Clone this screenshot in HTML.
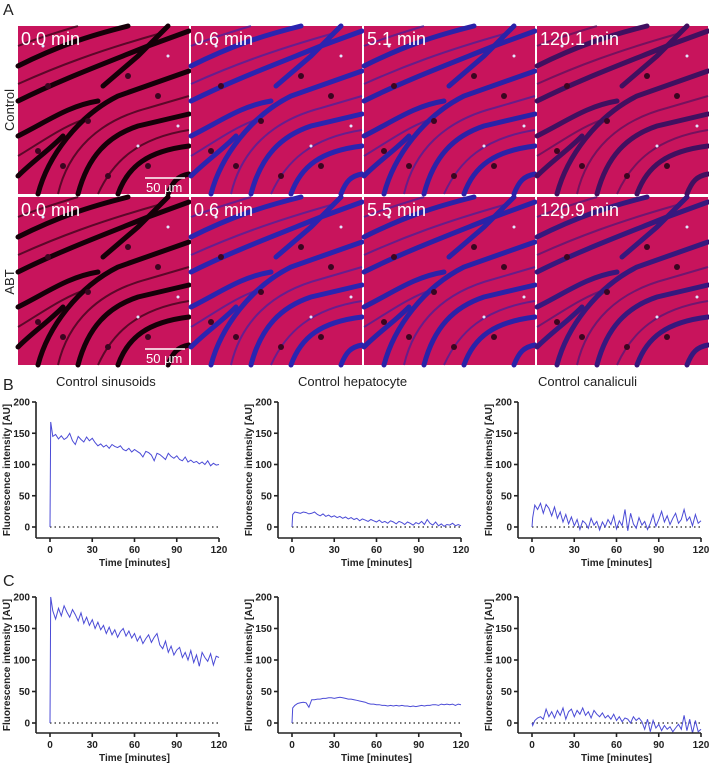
<!DOCTYPE html>
<html><head><meta charset="utf-8">
<style>
html,body{margin:0;padding:0;background:#fff;}
svg{display:block;font-family:"Liberation Sans",Arial,sans-serif;}
.tk{font-size:10px;font-weight:bold;fill:#222;}
.ttl{font-size:13px;fill:#222;}
.ax{stroke:#222;stroke-width:1.6;fill:none;}
.ser{stroke:#4b4bd6;stroke-width:1;fill:none;}
.img-lbl{font-size:18px;fill:#fff;}
</style></head>
<body>
<svg id="fig" width="709" height="763" viewBox="0 0 709 763">
<defs>
  <g id="tissue">
    <rect width="171" height="168" fill="#c8145c"/>
    <g stroke="currentColor" stroke-width="5" fill="none" stroke-linecap="round">
      <path d="M0,40 C40,20 70,10 110,0"/>
      <path d="M0,75 C40,55 80,40 130,20 L171,5"/>
      <path d="M20,168 C30,130 60,90 100,70 L171,45"/>
      <path d="M60,168 C70,130 90,110 120,100 L171,88"/>
      <path d="M100,168 C110,140 130,125 171,120"/>
      <path d="M0,110 C30,95 50,80 80,75"/>
      <path d="M0,150 C15,135 30,125 45,110"/>
      <path d="M150,168 C155,155 160,150 171,148"/>
      <path d="M85,60 L120,30 L150,0"/>
    </g>
    <g stroke="currentColor" stroke-width="2" fill="none" opacity="0.6">
      <path d="M0,58 C40,40 80,25 140,8"/>
      <path d="M40,168 C50,125 80,95 130,82 L171,70"/>
      <path d="M80,168 C95,135 120,112 171,104"/>
      <path d="M0,130 C25,115 45,100 70,92"/>
      <path d="M0,20 C20,12 40,6 60,0"/>
    </g>
    <g fill="#3a0520">
      <circle cx="30" cy="60" r="3"/><circle cx="70" cy="95" r="3"/><circle cx="110" cy="50" r="3"/>
      <circle cx="45" cy="140" r="3"/><circle cx="130" cy="140" r="3"/><circle cx="90" cy="150" r="3"/>
      <circle cx="140" cy="70" r="3"/><circle cx="20" cy="125" r="3"/>
    </g>
    <g fill="#e0e8ff">
      <circle cx="150" cy="30" r="1.5"/><circle cx="160" cy="100" r="1.5"/><circle cx="25" cy="20" r="1.5"/><circle cx="120" cy="120" r="1.5"/>
    </g>
  </g>
</defs>

<text x="3" y="15" font-size="16" fill="#222">A</text>
<text x="3" y="390" font-size="16" fill="#222">B</text>
<text x="3" y="586" font-size="16" fill="#222">C</text>

<text transform="translate(14,110) rotate(-90)" text-anchor="middle" font-size="13" fill="#222">Control</text>
<text transform="translate(14,282) rotate(-90)" text-anchor="middle" font-size="13" fill="#222">ABT</text>

<g><use href="#tissue" x="18" y="26" color="#150008"/><text class="img-lbl" x="21" y="45">0.0 min</text></g>
<g><use href="#tissue" x="191" y="26" color="#2a24b0"/><text class="img-lbl" x="194" y="45">0.6 min</text></g>
<g><use href="#tissue" x="364" y="26" color="#2a22a8"/><text class="img-lbl" x="367" y="45">5.1 min</text></g>
<g><use href="#tissue" x="537" y="26" color="#401060"/><text class="img-lbl" x="540" y="45">120.1 min</text></g>

<g><use href="#tissue" x="18" y="197" color="#150008"/><text class="img-lbl" x="21" y="216">0.0 min</text></g>
<g><use href="#tissue" x="191" y="197" color="#2a24b0"/><text class="img-lbl" x="194" y="216">0.6 min</text></g>
<g><use href="#tissue" x="364" y="197" color="#2a22a8"/><text class="img-lbl" x="367" y="216">5.5 min</text></g>
<g><use href="#tissue" x="537" y="197" color="#36187e"/><text class="img-lbl" x="540" y="216">120.9 min</text></g>

<g><line x1="145" y1="178" x2="185" y2="178" stroke="#fff" stroke-width="1.5"/><text x="146" y="192" font-size="13" fill="#fff">50 µm</text></g>
<g><line x1="145" y1="349" x2="185" y2="349" stroke="#fff" stroke-width="1.5"/><text x="146" y="363" font-size="13" fill="#fff">50 µm</text></g>

<g id="charts"></g>
</svg>
<script>
const xTicks = [0, 30, 60, 90, 120];
const yTicks = [0, 50, 100, 150, 200];
const ctrlSinusoids = [0,168,145,148,141,146,140,143,150,138,
 132,145,140,136,144,138,142,135,130,133,
 128,131,126,132,129,127,130,124,122,126,
 120,124,121,118,112,121,119,115,106,118,
 116,112,108,118,113,110,114,108,106,112,
 104,107,103,105,101,104,100,106,98,102,
 99,100];
const ctrlHepatocyte = [0,20,24,23,22,24,23,21,22,24,
 20,18,21,17,19,16,18,15,17,14,
 16,13,15,12,14,10,13,11,9,12,
 10,8,11,7,9,6,10,8,5,9,
 7,4,8,6,3,7,5,9,4,12,
 6,3,8,2,5,1,4,3,6,2,
 4,2];
const ctrlCanaliculi = [0,15,35,28,38,22,36,30,18,32,
 14,24,8,20,5,16,2,12,-4,10,
 6,-2,14,3,9,-5,8,0,12,4,
 18,-3,10,2,28,-6,22,5,-2,15,
 3,9,-4,6,20,1,12,25,8,18,
 4,14,22,6,12,28,10,16,2,20,
 6,10];
const abtSinusoids = [0,200,178,165,182,170,186,176,168,180,
 172,162,175,158,168,155,164,150,160,148,
 155,142,152,140,148,136,145,150,138,146,
 135,142,130,138,126,134,140,128,136,142,
 124,118,130,112,122,108,116,120,104,112,
 100,115,96,108,90,112,104,98,110,92,
 106,104];
const abtHepatocyte = [0,24,28,31,32,33,32,25,37,37,
 38,38,39,39,40,40,39,40,41,40,
 39,38,38,37,36,35,34,33,31,30,
 30,29,29,28,28,27,28,27,28,27,
 28,27,27,26,27,26,27,28,27,28,
 28,29,29,28,30,29,30,29,30,28,
 30,29];
const abtCanaliculi = [0,-4,4,8,10,6,22,10,18,8,
 20,12,24,6,18,22,10,20,14,24,
 12,18,8,20,14,10,16,8,12,6,
 14,4,10,2,8,6,0,10,4,8,
 2,-10,6,-14,4,-8,-2,-12,-4,-10,
 -6,-14,-8,-2,-10,12,-12,6,-16,4,
 -14,-10];
const sampleTimes = [0, 0.5];
for (let t = 2; t <= 120; t += 2) sampleTimes.push(t);

const NS = "http://www.w3.org/2000/svg";
const root = document.getElementById('charts');
function mk(tag, attrs, parent) {
  const e = document.createElementNS(NS, tag);
  for (const k in attrs) e.setAttribute(k, attrs[k]);
  (parent || root).appendChild(e);
  return e;
}
const cols = [{yax:36,x0:50,x1:219},{yax:278,x0:292,x1:461},{yax:518,x0:532,x1:701}];
const rows = [{y200:402,y0:527,xax:538},{y200:597,y0:723,xax:733}];
const charts = [
  {r:0,c:0,data:ctrlSinusoids,title:"Control sinusoids",name:"control-sinusoids"},
  {r:0,c:1,data:ctrlHepatocyte,title:"Control hepatocyte",name:"control-hepatocyte"},
  {r:0,c:2,data:ctrlCanaliculi,title:"Control canaliculi",name:"control-canaliculi"},
  {r:1,c:0,data:abtSinusoids,title:"",name:"abt-sinusoids"},
  {r:1,c:1,data:abtHepatocyte,title:"",name:"abt-hepatocyte"},
  {r:1,c:2,data:abtCanaliculi,title:"",name:"abt-canaliculi"}
];
charts.forEach((ch, i) => {
  const C = cols[ch.c], R = rows[ch.r];
  const xs = v => C.x0 + (C.x1 - C.x0) * v / 120;
  const ys = v => R.y0 + (R.y200 - R.y0) * v / 200;
  const g = mk('g', {});
  
  
  const clipId = 'clip' + i;
  const cp = mk('clipPath', {id: clipId}, g);
  mk('rect', {x: C.yax, y: R.y200 - 6, width: C.x1 - C.yax + 4, height: R.xax - R.y200 + 6}, cp);
  if (ch.title) {
    const t = mk('text', {x: C.x0 + 6, y: R.y200 - 16, class: 'ttl'}, g);
    t.textContent = ch.title;
    
    
  }
  const zl = mk('line', {x1: xs(0), x2: xs(120), y1: ys(0), y2: ys(0), stroke: '#222', 'stroke-width': 1.2, 'stroke-dasharray': '1.5,3'}, g);
  
  
  let d = '';
  ch.data.forEach((v, k) => { d += (k ? 'L' : 'M') + xs(sampleTimes[k]).toFixed(1) + ',' + ys(v).toFixed(1); });
  const p = mk('path', {d: d, class: 'ser', 'clip-path': 'url(#' + clipId + ')'}, g);
  
  
  const ya = mk('line', {x1: C.yax, x2: C.yax, y1: ys(200), y2: R.xax, class: 'ax'}, g);
  
  
  const xa = mk('line', {x1: C.yax, x2: xs(120), y1: R.xax, y2: R.xax, class: 'ax'}, g);
  
  
  yTicks.forEach(v => {
    mk('line', {x1: C.yax - 4, x2: C.yax, y1: ys(v), y2: ys(v), class: 'ax'}, g);
    const t = mk('text', {x: C.yax - 6, y: ys(v) + 3.5, 'text-anchor': 'end', class: 'tk'}, g);
    t.textContent = v;
    
    
  });
  xTicks.forEach(v => {
    mk('line', {x1: xs(v), x2: xs(v), y1: R.xax, y2: R.xax + 4, class: 'ax'}, g);
    const t = mk('text', {x: xs(v), y: R.xax + 15, 'text-anchor': 'middle', class: 'tk'}, g);
    t.textContent = v;
    
    
  });
  const xt = mk('text', {x: (C.x0 + C.x1) / 2, y: R.xax + 28, 'text-anchor': 'middle', class: 'tk'}, g);
  xt.textContent = 'Time [minutes]';
  
  
  const cy = (ys(200) + R.xax) / 2;
  const yt = mk('text', {transform: 'translate(' + (C.yax - 26) + ',' + cy + ') rotate(-90)', 'text-anchor': 'middle', class: 'tk', 'font-size': '9.5'}, g);
  yt.textContent = 'Fluorescence intensity [AU]';
  
  
});
</script>
</body></html>
